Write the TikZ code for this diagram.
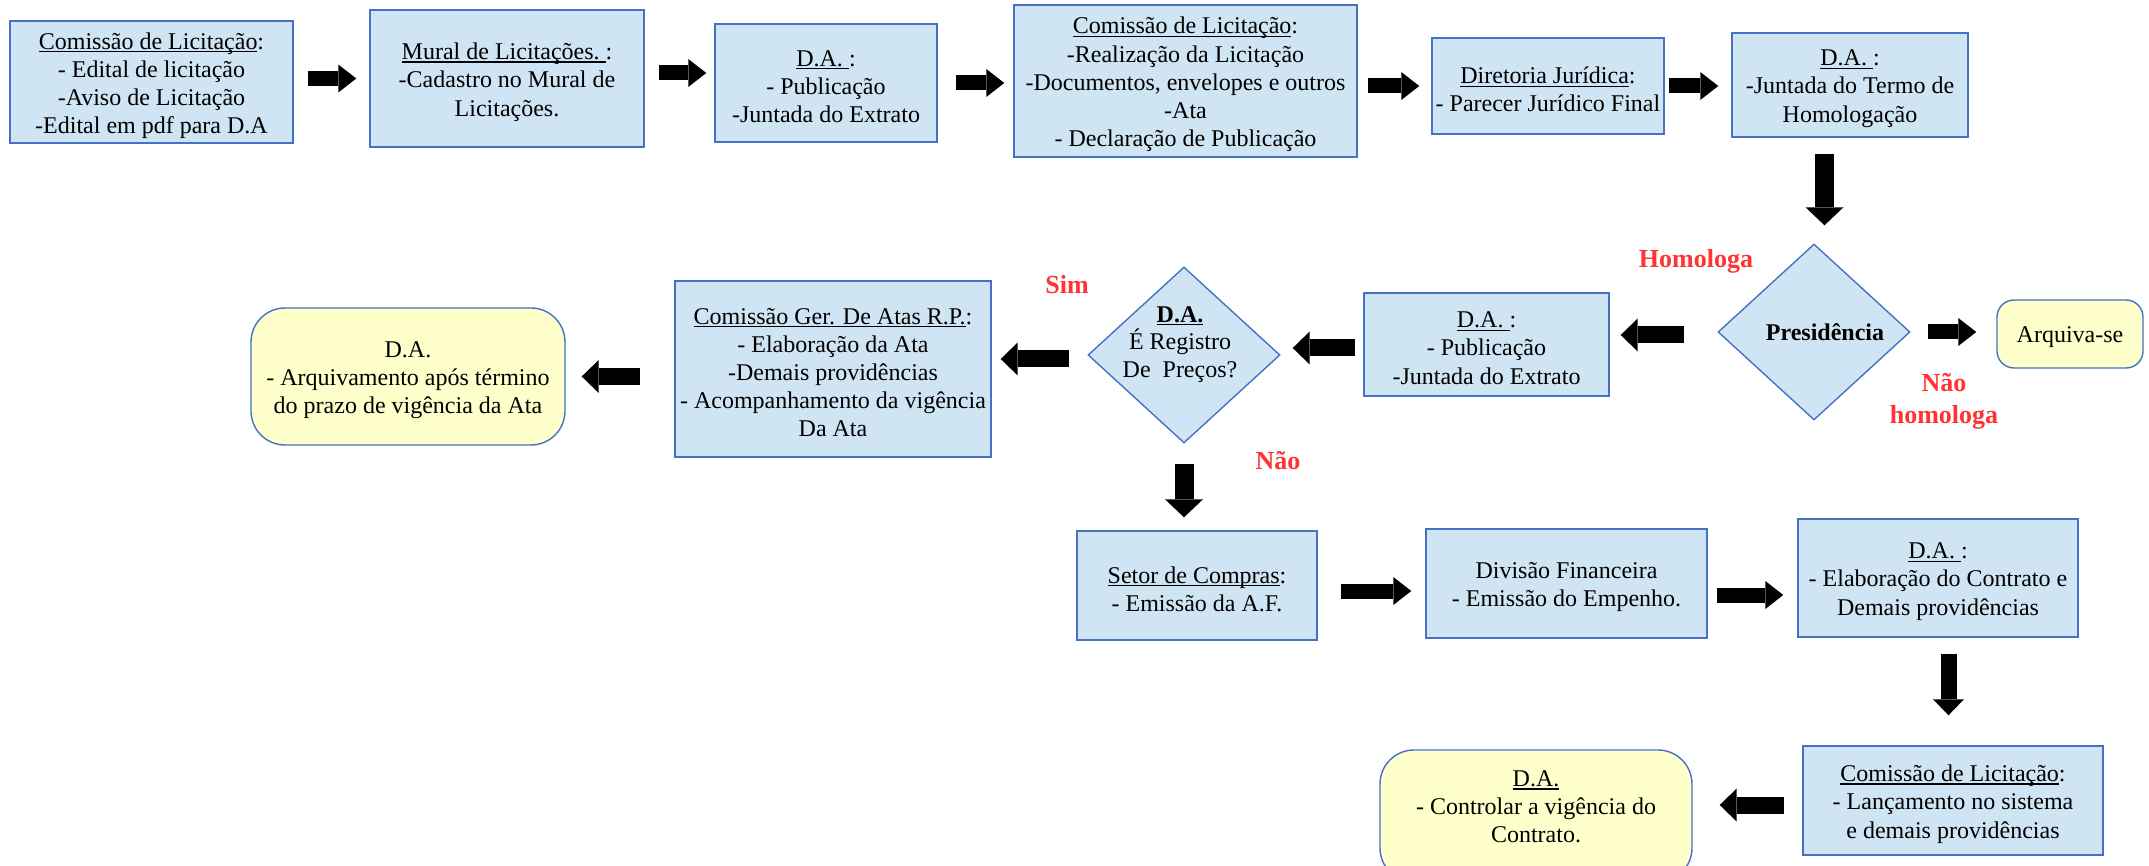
\documentclass[tikz,border=0pt]{standalone}
\usepackage{fontspec}
\setmainfont{Liberation Serif}
\usetikzlibrary{shapes.geometric,arrows.meta}
\definecolor{bfill}{RGB}{207,229,243}
\definecolor{yfill}{RGB}{255,255,204}
\definecolor{bord}{RGB}{69,114,196}
\definecolor{lred}{RGB}{255,51,51}
\newcommand\fsz{\fontsize{12}{14.1}\selectfont}
\newcommand\dsz{\fontsize{12}{13.7}\selectfont}
\newcommand\lfsz{\fontsize{13}{16}\selectfont\bfseries}
\newsavebox\ulbox
\newcommand\uln[1]{\sbox\ulbox{#1}\rlap{\rule[-1.5pt]{\wd\ulbox}{0.6pt}}\usebox\ulbox}
% box node plus its text node, the text set slightly below the box centre
\newcommand\bnode[4]{\node[#1] (#2) at (#3) {}; \node[txt] (#2t) at ([yshift=-1.8pt]#2.center) {#4};}
\begin{document}
\begin{tikzpicture}[x=0.5pt,y=-0.5pt,
 box/.style={draw=bord, fill=bfill, line width=0.7pt, inner sep=0pt},
 ybox/.style={box, fill=yfill, rounded corners=#1},
 txt/.style={align=center, font=\fsz, inner sep=0pt},
 dia/.style={diamond, draw=bord, fill=bfill, line width=0.7pt, inner sep=0pt, minimum width=96pt, minimum height=88pt},
 lab/.style={text=lred, font=\lfsz, align=center},
 harr/.style={line width=7.5pt, -{Triangle[length=9pt,width=14pt,line width=0pt]}},
 larr/.style={line width=8.5pt, -{Triangle[length=8.5pt,width=16.5pt,line width=0pt]}},
 varr/.style={line width=9.5pt, -{Triangle[length=9pt,width=19pt,line width=0pt]}},
 varrs/.style={line width=8pt, -{Triangle[length=8pt,width=15.5pt,line width=0pt]}},
]
\fill[white] (0,0) rectangle (2149,866);
\clip (0,0) rectangle (2149,866);

% row 1
\bnode{box, minimum width=141.5pt, minimum height=61pt}{b1}{151.5,82}{\uln{Comissão de Licitação}:\\- Edital de licitação\\-Aviso de Licitação\\-Edital em pdf para D.A}
\bnode{box, minimum width=137pt, minimum height=68.5pt}{b2}{507,78.5}{\uln{Mural de Licitações.\ }:\\-Cadastro no Mural de\\Licitações.}
\bnode{box, minimum width=111pt, minimum height=59pt}{b3}{826,83}{\uln{D.A.\ }:\\- Publicação\\-Juntada do Extrato}
\bnode{box, minimum width=171.5pt, minimum height=76pt}{b4}{1185.5,81}{\uln{Comissão de Licitação}:\\-Realização da Licitação\\-Documentos, envelopes e outros\\-Ata\\- Declaração de Publicação}
\bnode{box, minimum width=116pt, minimum height=48pt}{b5}{1548,86}{\uln{Diretoria Jurídica}:\\- Parecer Jurídico Final}
\bnode{box, minimum width=118pt, minimum height=52pt}{b6}{1850,85}{\uln{D.A.\ }:\\-Juntada do Termo de\\Homologação}

% row 2
\node[dia] (pres) at (1814,332) {};
\node[font=\fsz\bfseries] (prest) at ([xshift=5.5pt]pres.center) {Presidência};
\bnode{ybox=8.5pt, minimum width=73pt, minimum height=34pt}{arq}{2070,334}{Arquiva-se}
\bnode{box, minimum width=122.5pt, minimum height=51.5pt}{da2}{1486.5,344.5}{\uln{D.A.\ }:\\- Publicação\\-Juntada do Extrato}
\node[dia] (reg) at (1184,355) {};
\node[align=center, font=\dsz] (regt) at ([xshift=-2pt,yshift=5.25pt]reg.center) {\textbf{\uln{D.A.}}\\É Registro\\De\ \ Preços?};
\bnode{box, minimum width=158pt, minimum height=88pt}{cg}{833,369}{\uln{Comissão Ger. De Atas R.P.}:\\- Elaboração da Ata\\-Demais providências\\- Acompanhamento da vigência\\Da Ata}
\bnode{ybox=17pt, minimum width=157pt, minimum height=68.5pt}{arq2}{408,376.5}{D.A.\\- Arquivamento após término\\do prazo de vigência da Ata}

% row 3
\bnode{box, minimum width=120pt, minimum height=54.5pt}{setor}{1197,585.5}{\uln{Setor de Compras}:\\- Emissão da A.F.}
\bnode{box, minimum width=140.5pt, minimum height=54.5pt}{div}{1566.5,583.5}{Divisão Financeira\\- Emissão do Empenho.}
\bnode{box, minimum width=140pt, minimum height=59pt}{dac}{1938,578}{\uln{D.A.\ }:\\- Elaboração do Contrato e\\Demais providências}

% row 4
\bnode{box, minimum width=150pt, minimum height=54.5pt}{cl3}{1953,800.5}{\uln{Comissão de Licitação}:\\- Lançamento no sistema\\e demais providências}
\node[ybox=17pt, minimum width=156pt, minimum height=66pt] (dactl) at (1536,816) {};
\node[txt] (dactlt) at (1536,807) {\uln{D.A.}\\- Controlar a vigência do\\Contrato.};

% labels
\node[lab] (lhom) at (1696,261) {Homologa};
\node[lab] (lnhom) at (1944,401) {Não\\homologa};
\node[lab] (lsim) at (1067,285) {Sim};
\node[lab] (lnao) at (1278,461) {Não};

% arrows
\draw[harr, shorten <=7pt, shorten >=6.5pt] (b1.east |- b2.west) -- (b2.west);
\draw[harr, shorten <=7pt, shorten >=4pt] ([yshift=2.75pt]b2.east) -- ([yshift=2.75pt]b2.east -| b3.west);
\draw[harr, shorten <=9pt, shorten >=4.5pt] (b3.east) -- (b3.east -| b4.west);
\draw[harr, shorten <=5pt, shorten >=6pt] (b5.west -| b4.east) -- (b5.west);
\draw[harr, shorten <=2pt, shorten >=6.5pt] (b5.east) -- (b5.east -| b6.west);
\draw[varr, shorten <=8pt, shorten >=9pt] ([xshift=-12.75pt]b6.south) -- ([xshift=-12.75pt]b6.south |- pres.north);
\draw[larr, shorten <=16.5pt, shorten >=5.5pt] ([yshift=-1.5pt]pres.west) -- ([yshift=-1.5pt]pres.west -| da2.east);
\draw[harr, shorten <=8.5pt, shorten >=10pt] (pres.east) -- (pres.east -| arq.west);
\draw[larr, shorten <=4pt, shorten >=6pt] ([yshift=-1.75pt]da2.west) -- ([yshift=-1.75pt]da2.west -| reg.east);
\draw[larr, shorten <=9pt, shorten >=4.5pt] ([yshift=-2pt]reg.west) -- ([yshift=-2pt]reg.west -| cg.east);
\draw[larr, shorten <=17pt, shorten >=8pt] (arq2.east -| cg.west) -- (arq2.east);
\draw[varr, shorten <=10pt, shorten >=6.5pt] (reg.south) -- (reg.south |- setor.north);
\draw[harr, shorten <=11.5pt, shorten >=7pt] ([yshift=-2.75pt]setor.east) -- ([yshift=-2.75pt]setor.east -| div.west);
\draw[harr, shorten <=4.5pt, shorten >=7pt] ([yshift=-5.75pt]div.east) -- ([yshift=-5.75pt]div.east -| dac.west);
\draw[varrs, shorten <=8pt, shorten >=15pt] ([xshift=5.25pt]dac.south) -- ([xshift=5.25pt]dac.south |- cl3.north);
\draw[larr, shorten <=9pt, shorten >=13.5pt] ([yshift=-2.25pt]cl3.west) -- ([yshift=-2.25pt]cl3.west -| dactl.east);
\end{tikzpicture}
\end{document}
